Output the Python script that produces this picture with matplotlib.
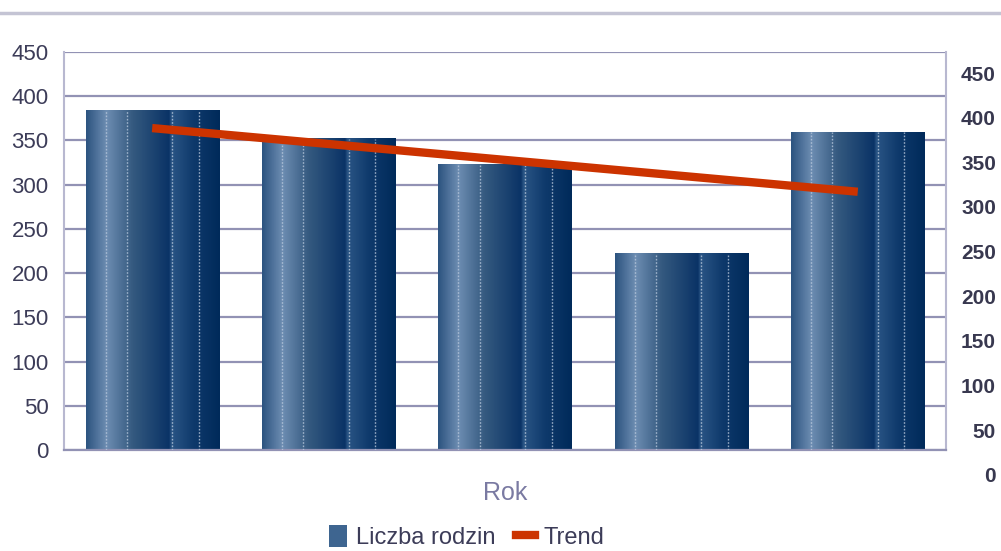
import matplotlib.pyplot as plt
import numpy as np
from matplotlib.lines import Line2D
from matplotlib.patches import Patch
from matplotlib.colors import LinearSegmentedColormap

plt.rcParams['font.family'] = ['Liberation Sans', 'DejaVu Sans']

# data
kategorie = ['1', '2', '3', '4', '5']
liczba_rodzin = [384, 352, 323, 222, 359]
trend = [364, 346, 328, 310, 292]
ticks_lewe = [0, 50, 100, 150, 200, 250, 300, 350, 400, 450]
ticks_prawe = [0, 50, 100, 150, 200, 250, 300, 350, 400, 450]

grid_col = '#9292b4'
text_col = '#3c3c58'

fig = plt.figure(figsize=(10.01, 5.51), dpi=100)
ax = fig.add_axes([0.0639, 0.1833, 0.8811, 0.7223])

x = np.arange(len(kategorie))
bars = ax.bar(x, liczba_rodzin, width=0.755, color='none', zorder=2)

# bar fill: horizontal gradient, light steel blue -> navy, with a second band
cmap = LinearSegmentedColormap.from_list('bar', [
    (0.00, '#2d5480'), (0.15, '#6d8db2'), (0.35, '#34597f'),
    (0.62, '#0a3366'), (0.64, '#2a5585'), (0.80, '#0f3a6c'),
    (1.00, '#002a5a')])
grad = np.linspace(0, 1, 200).reshape(1, -1)
for b in bars:
    x0, w, h = b.get_x(), b.get_width(), b.get_height()
    ax.imshow(grad, cmap=cmap, aspect='auto', extent=[x0, x0 + w, 0, h],
              zorder=2, interpolation='bilinear')
    for f in (0.15, 0.31, 0.65, 0.85):
        ax.vlines(x0 + f * w, 0, h, colors='#b8c8dc', linestyles=(0, (1.2, 1.2)),
                  linewidth=1.0, zorder=3, alpha=0.8)

ax.plot(x, trend, color='#cc3300', linewidth=6, solid_capstyle='butt', zorder=4)

ax.set_xlim(-0.5, len(kategorie) - 0.5)
ax.set_ylim(0, 450)
ax.set_yticks(ticks_lewe)
ax.set_xticks([])
ax.yaxis.grid(True, color=grid_col, linewidth=1.6, zorder=0)
ax.set_axisbelow(True)
ax.tick_params(axis='y', length=0, pad=11, labelsize=16, labelcolor=text_col)
for s in ['left', 'right']:
    ax.spines[s].set_color('#b8b8d0')
    ax.spines[s].set_linewidth(1.5)
ax.spines['top'].set_visible(False)
ax.spines['bottom'].set_color(grid_col)
ax.spines['bottom'].set_linewidth(1.6)
ax.set_xlabel('Rok', fontsize=18, color='#7a7aa2', labelpad=22)

# secondary axis labels (offset scale)
ax2 = fig.add_axes([0.0639, 0.138, 0.8811, 0.7295], facecolor='none')
ax2.set_ylim(0, 450)
ax2.set_xticks([])
ax2.set_yticks(ticks_prawe)
ax2.yaxis.tick_right()
for s in ax2.spines.values():
    s.set_visible(False)
ax2.tick_params(axis='y', length=0, pad=36, labelsize=15, labelcolor='#38384f')
for t in ax2.get_yticklabels():
    t.set_fontweight('bold')
    t.set_horizontalalignment('right')

# top band line
fig.add_artist(Line2D([0, 1], [0.977, 0.977], transform=fig.transFigure,
                      color='#c4c4d4', linewidth=2.5))

handles = [Patch(facecolor='#3e6590', edgecolor='none', label='Liczba rodzin'),
           Line2D([], [], color='#cc3300', linewidth=6, label='Trend')]
fig.legend(handles=handles, loc='center', bbox_to_anchor=(0.466, 0.025),
           ncol=2, frameon=False, fontsize=17, labelcolor=text_col,
           handlelength=0.8, handleheight=1.0, handletextpad=0.35,
           columnspacing=0.9)

fig.savefig('out.png', dpi=100)
